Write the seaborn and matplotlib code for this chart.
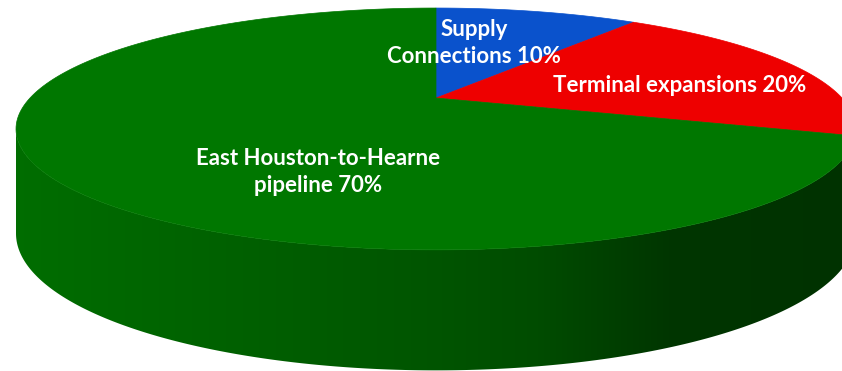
import numpy as np
import matplotlib
matplotlib.use("Agg")
import matplotlib.pyplot as plt
from matplotlib.patches import Polygon
import seaborn as sns

# ---- data ----
labels = ["Supply\nConnections 10%", "Terminal expansions 20%", "East Houston-to-Hearne\npipeline 70%"]
shares = [10, 20, 70]
top_colors = ["#0A52CC", "#EE0000", "#007700"]

sns.set_style("white")
plt.rcParams['font.family'] = ['Lato', 'DejaVu Sans']

W, H = 842, 371
fig = plt.figure(figsize=(W / 100, H / 100), dpi=100)
ax = fig.add_axes([0, 0, 1, 1])
ax.set_xlim(0, W)
ax.set_ylim(H, 0)
ax.axis("off")

# projection parameters (layout)
cx, cy = 436, 98
R, A, k = 406, 113, 0.256
TH, k2 = 100, 0.17


def proj(phi, z=0.0):
    u = np.sin(phi)
    v = np.cos(phi)
    d = 1 + k * v
    x = cx + R * u / d
    y = cy - A * v / d + z * TH / (1 + k2 * v)
    return x, y


bounds = np.deg2rad(np.concatenate([[0], np.cumsum(shares)]) / 100 * 360)

# visible front band of the side wall: between the silhouette extremes
grid = np.linspace(0, 2 * np.pi, 7201)
gx, _ = proj(grid)
vis_lo = grid[np.argmax(gx)]
vis_hi = grid[np.argmin(gx)]
xmin, xmax = gx.min(), gx.max()
xcols = np.arange(W) + 0.5
t = np.clip((xcols - xmin) / (xmax - xmin), 0, 1)
shade = np.interp(t, [0, 0.5, 0.62, 0.78, 1], [0.92, 0.71, 0.64, 0.45, 0.42])

for i in range(len(shares)):
    a0 = max(bounds[i], vis_lo)
    a1 = min(bounds[i + 1], vis_hi)
    if a1 <= a0:
        continue
    ph = np.linspace(a0, a1, 300)
    xt, yt = proj(ph)
    xb, yb = proj(ph[::-1], z=1)
    pts = list(zip(xt, yt)) + list(zip(xb, yb))
    base = np.array(matplotlib.colors.to_rgb(top_colors[i]))
    img = np.clip(base[None, None, :] * shade[None, :, None], 0, 1)
    img = np.repeat(img, 2, axis=0)
    poly = Polygon(pts, closed=True, facecolor="none", edgecolor="none")
    ax.add_patch(poly)
    im = ax.imshow(img, extent=(0, W, H, 0), aspect="auto", interpolation="nearest", zorder=1)
    im.set_clip_path(poly)

# top face wedges
for i in range(len(shares)):
    ph = np.linspace(bounds[i], bounds[i + 1], 200)
    xs, ys = proj(ph)
    pts = [(cx, cy)] + list(zip(xs, ys))
    ax.add_patch(Polygon(pts, closed=True, facecolor=top_colors[i],
                         edgecolor=top_colors[i], lw=0.5, zorder=2))

# labels
label_pos = [(474, 43), (680, 86), (318, 172)]
for lab, (lx, ly) in zip(labels, label_pos):
    ax.text(lx, ly, lab, color="white", fontsize=16, fontweight="bold",
            ha="center", va="center", multialignment="center",
            linespacing=1.3, zorder=3)

ax.set_xlim(0, W)
ax.set_ylim(H, 0)
fig.savefig("out.png", dpi=100)
